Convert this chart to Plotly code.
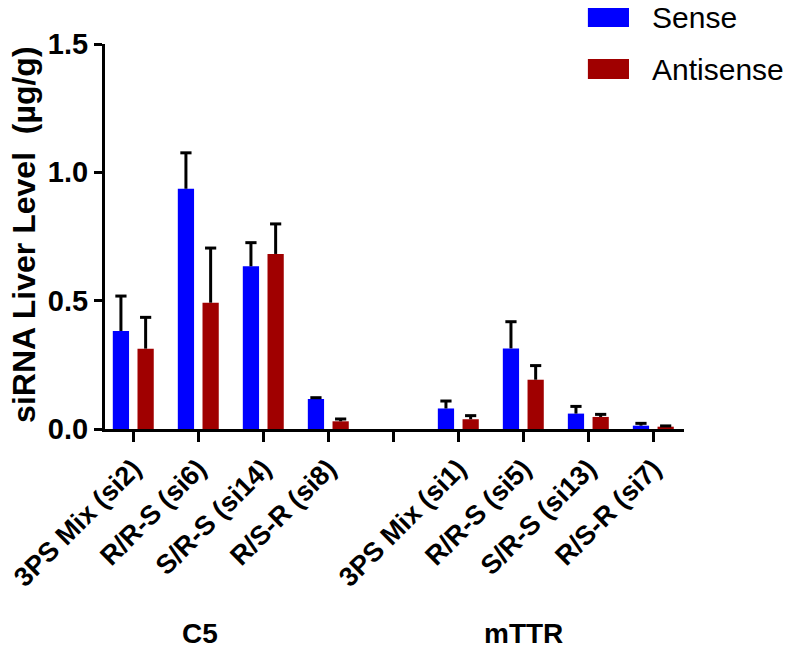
import plotly.graph_objects as go

# ---- data ----
categories = ["3PS Mix (si2)", "R/R-S (si6)", "S/R-S (si14)", "R/S-R (si8)", "",
              "3PS Mix (si1)", "R/R-S (si5)", "S/R-S (si13)", "R/S-R (si7)"]
sense = [0.382, 0.936, 0.634, 0.117, None, 0.080, 0.314, 0.060, 0.013]
sense_err = [0.136, 0.140, 0.092, 0.005, None, 0.029, 0.104, 0.028, 0.009]
antisense = [0.313, 0.492, 0.682, 0.030, None, 0.038, 0.192, 0.047, 0.009]
antisense_err = [0.122, 0.213, 0.117, 0.009, None, 0.014, 0.055, 0.010, 0.003]
groups = ["C5", "mTTR"]
series_names = ["Sense", "Antisense"]
y_ticks = [0.0, 0.5, 1.0, 1.5]
y_tick_labels = ["0.0", "0.5", "1.0", "1.5"]

# ---- style ----
BLUE = "#0000FF"
RED = "#A00000"
FONT = "Liberation Sans, Arial, sans-serif"
bar_w = 0.25
offsets = [-0.315, 0.065]

pos = list(range(len(categories)))

fig = go.Figure()
for name, vals, errs, col, off in [
    (series_names[0], sense, sense_err, BLUE, offsets[0]),
    (series_names[1], antisense, antisense_err, RED, offsets[1]),
]:
    fig.add_trace(go.Bar(
        x=pos, y=vals, name=name, width=bar_w, offset=off,
        marker=dict(color=col, line=dict(width=0)), showlegend=False,
    ))
    xs = [p + off + bar_w / 2 for p in pos]
    tops = [None if v is None else v + e for v, e in zip(vals, errs)]
    fig.add_trace(go.Scatter(
        x=xs, y=tops, mode="markers", showlegend=False, hoverinfo="skip",
        marker=dict(symbol="line-ew", size=8, color="black",
                    line=dict(width=3, color="black")),
        error_y=dict(type="data", symmetric=False,
                     array=[0 if e is not None else None for e in errs],
                     arrayminus=errs, width=0, thickness=3, color="black"),
    ))

# page body has an 8px margin, so the figure is sized/offset to land on the window
fig.update_layout(
    width=787, height=641,
    margin=dict(l=97, r=111, t=36, b=220),
    plot_bgcolor="white", paper_bgcolor="white",
    barmode="overlay",
    font=dict(family=FONT, color="black"),
    xaxis=dict(
        range=[-0.435, 8.472], tickmode="array", tickvals=pos, ticktext=categories,
        tickangle=-45, ticks="outside", ticklen=10, tickwidth=3, tickcolor="black",
        showline=True, linewidth=3, linecolor="black", showgrid=False, zeroline=False,
        ticklabeloverflow="allow", automargin=False,
        tickfont=dict(size=27, family=FONT, weight="bold", color="black"),
    ),
    yaxis=dict(
        range=[0, 1.5], tickmode="array", tickvals=y_ticks, ticktext=y_tick_labels,
        ticks="outside", ticklen=8, tickwidth=3, tickcolor="black",
        showline=True, linewidth=3, linecolor="black", showgrid=False, zeroline=False,
        automargin=False,
        tickfont=dict(size=29, family=FONT, weight="bold", color="black"),
    ),
    showlegend=False,
)

# y-axis title
fig.add_annotation(
    text="siRNA Liver Level&nbsp;&nbsp;(µg/g)", xref="paper", yref="paper",
    x=-0.14, y=0.504, xanchor="center", yanchor="middle", textangle=-90,
    showarrow=False, font=dict(size=32, family=FONT, weight="bold", color="black"),
)

# group labels
for g, gx in zip(groups, [0.164, 0.722]):
    fig.add_annotation(
        text=g, xref="paper", yref="paper", x=gx, y=-0.53,
        xanchor="center", yanchor="middle", showarrow=False,
        font=dict(size=28, family=FONT, weight="bold", color="black"),
    )

# custom legend
for name, col, y0, y1, ty in [
    (series_names[0], BLUE, 1.044, 1.096, 1.070),
    (series_names[1], RED, 0.909, 0.961, 0.935),
]:
    fig.add_shape(type="rect", xref="paper", yref="paper",
                  x0=0.834, x1=0.905, y0=y0, y1=y1,
                  fillcolor=col, line=dict(width=0))
    fig.add_annotation(text=name, xref="paper", yref="paper", x=0.941, y=ty,
                       xanchor="left", yanchor="middle", showarrow=False,
                       font=dict(size=30, family=FONT, color="black"))

fig.write_html("out.html", config={"displayModeBar": False})
